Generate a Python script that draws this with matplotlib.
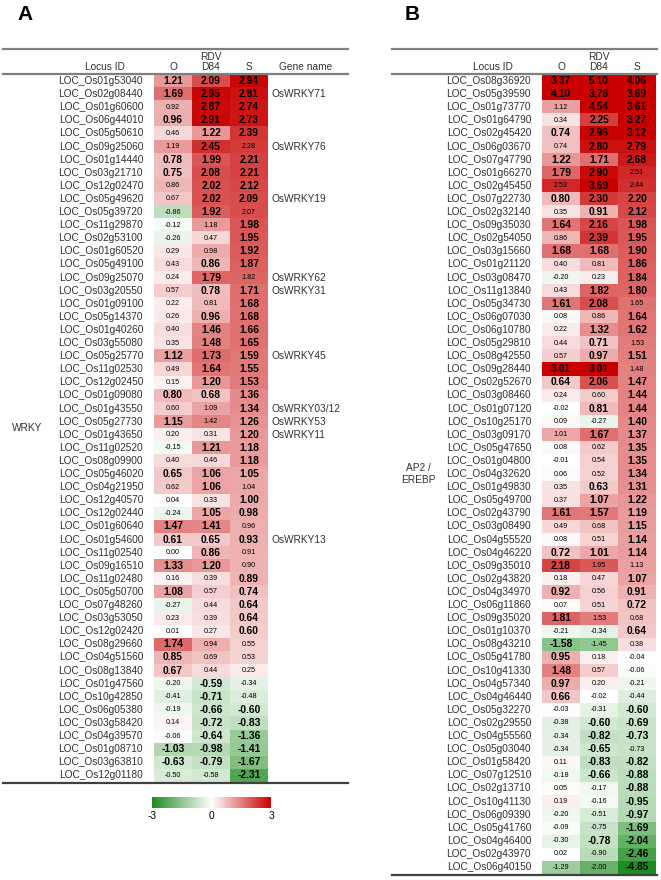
import numpy as np
import matplotlib.pyplot as plt
from matplotlib.colors import LinearSegmentedColormap
from matplotlib.lines import Line2D

plt.rcParams['font.family'] = ['Liberation Sans', 'DejaVu Sans']

# ---------------- panel A : WRKY ----------------
wrky_ids = ["LOC_Os01g53040", "LOC_Os02g08440", "LOC_Os01g60600", "LOC_Os06g44010",
            "LOC_Os05g50610", "LOC_Os09g25060", "LOC_Os01g14440", "LOC_Os03g21710",
            "LOC_Os12g02470", "LOC_Os05g49620", "LOC_Os05g39720", "LOC_Os11g29870",
            "LOC_Os02g53100", "LOC_Os01g60520", "LOC_Os05g49100", "LOC_Os09g25070",
            "LOC_Os03g20550", "LOC_Os01g09100", "LOC_Os05g14370", "LOC_Os01g40260",
            "LOC_Os03g55080", "LOC_Os05g25770", "LOC_Os11g02530", "LOC_Os12g02450",
            "LOC_Os01g09080", "LOC_Os01g43550", "LOC_Os05g27730", "LOC_Os01g43650",
            "LOC_Os11g02520", "LOC_Os08g09900", "LOC_Os05g46020", "LOC_Os04g21950",
            "LOC_Os12g40570", "LOC_Os12g02440", "LOC_Os01g60640", "LOC_Os01g54600",
            "LOC_Os11g02540", "LOC_Os09g16510", "LOC_Os11g02480", "LOC_Os05g50700",
            "LOC_Os07g48260", "LOC_Os03g53050", "LOC_Os12g02420", "LOC_Os08g29660",
            "LOC_Os04g51560", "LOC_Os08g13840", "LOC_Os01g47560", "LOC_Os10g42850",
            "LOC_Os06g05380", "LOC_Os03g58420", "LOC_Os04g39570", "LOC_Os01g08710",
            "LOC_Os03g63810", "LOC_Os12g01180"]
wrky_O = [1.21, 1.69, 0.92, 0.96, 0.46, 1.19, 0.78, 0.75, 0.86, 0.67, -0.86, -0.12,
          -0.26, 0.29, 0.43, 0.24, 0.57, 0.22, 0.26, 0.40, 0.35, 1.12, 0.49, 0.15,
          0.80, 0.60, 1.15, 0.20, -0.15, 0.40, 0.65, 0.62, 0.04, -0.24, 1.47, 0.61,
          0.00, 1.33, 0.16, 1.08, -0.27, 0.23, 0.01, 1.74, 0.85, 0.67, -0.20, -0.41,
          -0.19, 0.14, -0.06, -1.03, -0.63, -0.50]
wrky_D84 = [2.09, 2.95, 2.87, 2.91, 1.22, 2.45, 1.99, 2.08, 2.02, 2.02, 1.92, 1.18,
            0.47, 0.98, 0.86, 1.79, 0.78, 0.81, 0.96, 1.46, 1.48, 1.73, 1.64, 1.20,
            0.68, 1.09, 1.42, 0.31, 1.21, 0.46, 1.06, 1.06, 0.33, 1.05, 1.41, 0.65,
            0.86, 1.20, 0.39, 0.57, 0.44, 0.39, 0.27, 0.94, 0.69, 0.44, -0.59, -0.71,
            -0.66, -0.72, -0.64, -0.98, -0.79, -0.58]
wrky_S = [2.94, 2.81, 2.74, 2.73, 2.39, 2.28, 2.21, 2.21, 2.12, 2.09, 2.07, 1.98,
          1.95, 1.92, 1.87, 1.82, 1.71, 1.68, 1.68, 1.66, 1.65, 1.59, 1.55, 1.53,
          1.36, 1.34, 1.26, 1.20, 1.18, 1.18, 1.05, 1.04, 1.00, 0.98, 0.96, 0.93,
          0.91, 0.90, 0.89, 0.74, 0.64, 0.64, 0.60, 0.55, 0.53, 0.25, -0.34, -0.48,
          -0.60, -0.83, -1.36, -1.41, -1.67, -2.31]
# 1 = bold (significant), 0 = small type ; columns O, D84, S
wrky_bold = ["111", "111", "011", "111", "011", "010", "111", "111", "011", "011",
             "010", "001", "001", "001", "011", "010", "011", "001", "011", "011",
             "011", "111", "011", "011", "111", "001", "101", "001", "011", "001",
             "111", "010", "001", "011", "110", "111", "010", "110", "001", "101",
             "001", "001", "001", "100", "100", "100", "010", "010", "011", "011",
             "011", "111", "111", "001"]
wrky_gene = {1: "OsWRKY71", 5: "OsWRKY76", 9: "OsWRKY19", 15: "OsWRKY62",
             16: "OsWRKY31", 21: "OsWRKY45", 25: "OsWRKY03/12", 26: "OsWRKY53",
             27: "OsWRKY11", 35: "OsWRKY13"}

# ---------------- panel B : AP2/EREBP ----------------
ap2_ids = ["LOC_Os08g36920", "LOC_Os05g39590", "LOC_Os01g73770", "LOC_Os01g64790",
           "LOC_Os02g45420", "LOC_Os06g03670", "LOC_Os07g47790", "LOC_Os01g66270",
           "LOC_Os02g45450", "LOC_Os07g22730", "LOC_Os02g32140", "LOC_Os09g35030",
           "LOC_Os02g54050", "LOC_Os03g15660", "LOC_Os01g21120", "LOC_Os03g08470",
           "LOC_Os11g13840", "LOC_Os05g34730", "LOC_Os06g07030", "LOC_Os06g10780",
           "LOC_Os05g29810", "LOC_Os08g42550", "LOC_Os09g28440", "LOC_Os02g52670",
           "LOC_Os03g08460", "LOC_Os01g07120", "LOC_Os10g25170", "LOC_Os03g09170",
           "LOC_Os05g47650", "LOC_Os01g04800", "LOC_Os04g32620", "LOC_Os01g49830",
           "LOC_Os05g49700", "LOC_Os02g43790", "LOC_Os03g08490", "LOC_Os04g55520",
           "LOC_Os04g46220", "LOC_Os09g35010", "LOC_Os02g43820", "LOC_Os04g34970",
           "LOC_Os06g11860", "LOC_Os09g35020", "LOC_Os01g10370", "LOC_Os08g43210",
           "LOC_Os05g41780", "LOC_Os10g41330", "LOC_Os04g57340", "LOC_Os04g46440",
           "LOC_Os05g32270", "LOC_Os02g29550", "LOC_Os04g55560", "LOC_Os05g03040",
           "LOC_Os01g58420", "LOC_Os07g12510", "LOC_Os02g13710", "LOC_Os10g41130",
           "LOC_Os06g09390", "LOC_Os05g41760", "LOC_Os04g46400", "LOC_Os02g43970",
           "LOC_Os06g40150"]
ap2_O = [3.37, 4.10, 1.12, 0.34, 0.74, 0.74, 1.22, 1.79, 2.53, 0.80, 0.35, 1.64,
         0.86, 1.68, 0.40, -0.20, 0.43, 1.61, 0.08, 0.22, 0.44, 0.57, 3.01, 0.64,
         0.24, -0.02, 0.09, 1.01, 0.08, -0.01, 0.06, 0.35, 0.37, 1.61, 0.49, 0.08,
         0.72, 2.18, 0.18, 0.92, 0.07, 1.81, -0.21, -1.58, 0.95, 1.48, 0.97, 0.66,
         -0.03, -0.38, -0.34, -0.34, 0.11, -0.18, 0.05, 0.19, -0.20, -0.09, -0.30,
         0.02, -1.29]
ap2_D84 = [5.10, 3.76, 4.54, 2.25, 2.96, 2.80, 1.71, 2.90, 3.69, 2.30, 0.91, 2.16,
           2.39, 1.68, 0.81, 0.23, 1.82, 2.08, 0.86, 1.32, 0.71, 0.97, 3.01, 2.06,
           0.60, 0.81, -0.27, 1.67, 0.62, 0.54, 0.52, 0.63, 1.07, 1.57, 0.68, 0.51,
           1.01, 1.95, 0.47, 0.56, 0.51, 1.53, -0.34, -1.45, 0.18, 0.57, 0.20, -0.02,
           -0.31, -0.60, -0.82, -0.65, -0.83, -0.66, -0.17, -0.16, -0.51, -0.75,
           -0.78, -0.90, -2.00]
ap2_S = [4.06, 3.69, 3.61, 3.27, 3.12, 2.79, 2.68, 2.51, 2.44, 2.20, 2.12, 1.98,
         1.95, 1.90, 1.86, 1.84, 1.80, 1.65, 1.64, 1.62, 1.53, 1.51, 1.48, 1.47,
         1.44, 1.44, 1.40, 1.37, 1.35, 1.35, 1.34, 1.31, 1.22, 1.19, 1.15, 1.14,
         1.14, 1.13, 1.07, 0.91, 0.72, 0.68, 0.64, 0.38, -0.04, -0.06, -0.21, -0.44,
         -0.60, -0.69, -0.73, -0.73, -0.82, -0.88, -0.88, -0.95, -0.97, -1.69,
         -2.04, -2.46, -4.85]
ap2_bold = ["111", "111", "011", "011", "111", "011", "111", "110", "010", "111",
            "011", "111", "011", "111", "001", "001", "011", "110", "001", "011",
            "010", "011", "110", "111", "001", "011", "001", "011", "001", "001",
            "001", "011", "011", "111", "001", "001", "111", "100", "001", "101",
            "001", "100", "001", "100", "100", "100", "100", "100", "001", "011",
            "011", "010", "011", "011", "001", "001", "001", "001", "011", "001",
            "001"]

cmap = LinearSegmentedColormap.from_list("gwr", ["#1e8c1e", "#ffffff", "#c80000"])

W, H = 661, 880
fig = plt.figure(figsize=(W / 100, H / 100), dpi=100)


def fx(x):
    return x / W


def fy(y):
    return 1 - y / H


def hline(x0, x1, y, color="#7f7f7f", lw=1.6):
    fig.add_artist(Line2D([fx(x0), fx(x1)], [fy(y), fy(y)], color=color, lw=lw,
                          transform=fig.transFigure))


def ftext(x, y, s, **kw):
    fig.text(fx(x), fy(y), s, va="center", **kw)


ROW = 13.1
TOP = 74.5
txt = "#303030"


def panel(ids, O, D, S, bold, cell_x, left_x, label, label_x, letter, letter_x,
          genes=None):
    n = len(ids)
    vals = np.array([O, D, S]).T
    bottom = TOP + n * ROW
    ax = fig.add_axes([fx(cell_x), fy(bottom), fx(3 * 38), (n * ROW) / H])
    im = ax.imshow(vals, cmap=cmap, vmin=-3, vmax=3, aspect="auto",
                   interpolation="nearest")
    ax.set_axis_off()
    for i in range(n):
        for j in range(3):
            b = bold[i][j] == "1"
            ax.text(j, i, f"{vals[i, j]:.2f}", ha="center", va="center",
                    fontsize=7.4 if b else 5.2,
                    fontweight="bold" if b else "normal", color="black")
        ftext(cell_x - 11, TOP + (i + 0.5) * ROW, ids[i], ha="right",
              fontsize=7.3, color=txt)
        if genes and i in genes:
            ftext(cell_x + 118, TOP + (i + 0.5) * ROW, genes[i], ha="left",
                  fontsize=7.3, color=txt)
    right_x = cell_x + 114 + (80 if genes else 1)
    hline(left_x, right_x, 49)
    hline(left_x, right_x, 74)
    hline(left_x, right_x, bottom + 1, color="#404040")
    ftext(cell_x + 57, 57, "RDV", ha="center", fontsize=7.3, color=txt)
    for j, h in enumerate(["O", "D84", "S"]):
        ftext(cell_x + 19 + 38 * j, 67, h, ha="center", fontsize=7.3, color=txt)
    ftext(cell_x - 49, 67, "Locus ID", ha="center", fontsize=7.3, color=txt)
    if genes:
        ftext(cell_x + 152, 67, "Gene name", ha="center", fontsize=7.3, color=txt)
    ftext(label_x, (TOP + bottom) / 2, label, ha="center", fontsize=7.3,
          color=txt, linespacing=1.3)
    ftext(letter_x, 15, letter, ha="center", fontsize=15, fontweight="bold")
    return im, bottom


im, bottomA = panel(wrky_ids, wrky_O, wrky_D84, wrky_S, wrky_bold, 154, 3,
                    "WRKY", 27, "A", 25, genes=wrky_gene)
panel(ap2_ids, ap2_O, ap2_D84, ap2_S, ap2_bold, 542, 392,
      "AP2 /\nEREBP", 418, "B", 412)

# colour key under panel A
cax = fig.add_axes([fx(152), fy(bottomA + 26), fx(119), 11 / H])
cb = fig.colorbar(im, cax=cax, orientation="horizontal", ticks=[-3, 0, 3])
cb.outline.set_visible(False)
cb.ax.tick_params(length=0, labelsize=7.3, pad=2)
cb.ax.set_xticklabels(["-3", "0", "3"])

fig.savefig("out.png", dpi=100)
